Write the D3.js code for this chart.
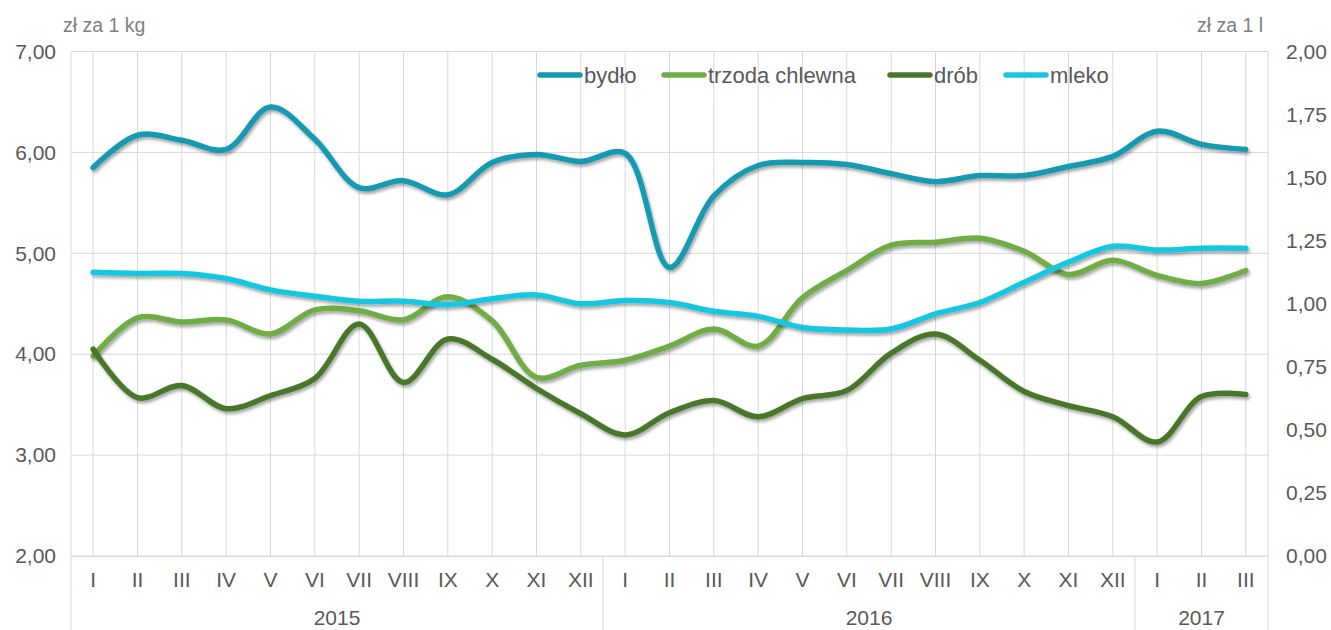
<!DOCTYPE html>
<html>
<head>
<meta charset="utf-8">
<script src="https://cdn.jsdelivr.net/npm/d3@7"></script>
<style>
  body { margin: 0; background: #fff; }
  svg { display: block; font-family: "Liberation Sans", Arial, sans-serif; }
</style>
</head>
<body>
<div id="chart"></div>
<script>
// months I 2015 .. III 2017
const months = ["I","II","III","IV","V","VI","VII","VIII","IX","X","XI","XII",
                "I","II","III","IV","V","VI","VII","VIII","IX","X","XI","XII",
                "I","II","III"];
const years = [
  { label: "2015", start: 0, end: 11 },
  { label: "2016", start: 12, end: 23 },
  { label: "2017", start: 24, end: 26 }
];

// zł za 1 kg (left axis)
const bydlo = [5.85, 6.17, 6.12, 6.03, 6.45, 6.13, 5.65, 5.72, 5.58, 5.90, 5.98, 5.91,
               5.99, 4.86, 5.57, 5.87, 5.90, 5.88, 5.79, 5.71, 5.77, 5.77, 5.86, 5.96,
               6.21, 6.08, 6.03];
const trzoda = [3.98, 4.36, 4.32, 4.34, 4.20, 4.44, 4.43, 4.34, 4.57, 4.33, 3.77, 3.89,
                3.94, 4.08, 4.25, 4.08, 4.56, 4.83, 5.08, 5.11, 5.15, 5.02, 4.79, 4.93,
                4.78, 4.70, 4.83];
const drob = [4.05, 3.57, 3.69, 3.46, 3.59, 3.76, 4.30, 3.72, 4.15, 3.95, 3.66, 3.41,
              3.20, 3.42, 3.54, 3.38, 3.56, 3.64, 4.01, 4.20, 3.94, 3.63, 3.49, 3.38,
              3.13, 3.58, 3.60];
// zł za 1 l (right axis)
const mleko = [1.125, 1.12, 1.12, 1.10, 1.055, 1.03, 1.01, 1.01, 0.996, 1.02, 1.035, 1.00,
               1.013, 1.005, 0.97, 0.95, 0.906, 0.896, 0.90, 0.96, 1.005, 1.085, 1.165, 1.228,
               1.213, 1.22, 1.22];

const leftTicks = [2, 3, 4, 5, 6, 7];
const rightTicks = [0, 0.25, 0.5, 0.75, 1, 1.25, 1.5, 1.75, 2];

const series = [
  { name: "bydło", values: bydlo, color: "#139ab1", axis: "left" },
  { name: "trzoda chlewna", values: trzoda, color: "#70ad47", axis: "left" },
  { name: "drób", values: drob, color: "#4a772b", axis: "left" },
  { name: "mleko", values: mleko, color: "#17c7e2", axis: "right" }
];

const W = 1331, H = 630;
const plot = { left: 71, right: 1268, top: 51.5, bottom: 556 };

const pl = d3.formatLocale({ decimal: ",", thousands: " ", grouping: [3], currency: ["", " zł"] });
const fmt = pl.format(".2f");

const svg = d3.select("#chart").append("svg")
  .attr("width", W)
  .attr("height", H);

const defs = svg.append("defs");
const shadow = defs.append("filter")
  .attr("id", "shadow")
  .attr("x", "-5%").attr("y", "-20%")
  .attr("width", "110%").attr("height", "140%");
shadow.append("feDropShadow")
  .attr("dx", 1.5).attr("dy", 2.5)
  .attr("stdDeviation", 1.6)
  .attr("flood-color", "#000")
  .attr("flood-opacity", 0.35);

const x = d3.scaleBand()
  .domain(d3.range(months.length))
  .range([plot.left, plot.right])
  .padding(0);
const cx = i => x(i) + x.bandwidth() / 2;

const yL = d3.scaleLinear().domain([2, 7]).range([plot.bottom, plot.top]);
const yR = d3.scaleLinear().domain([0, 2]).range([plot.bottom, plot.top]);

const gridColor = "#d9d9d9";
const textColor = "#595959";

// horizontal gridlines
svg.append("g")
  .selectAll("line")
  .data(leftTicks)
  .join("line")
    .attr("x1", plot.left).attr("x2", plot.right)
    .attr("y1", d => yL(d)).attr("y2", d => yL(d))
    .attr("stroke", gridColor).attr("stroke-width", 1);

// vertical gridlines at categories
svg.append("g")
  .selectAll("line")
  .data(d3.range(months.length))
  .join("line")
    .attr("x1", d => cx(d)).attr("x2", d => cx(d))
    .attr("y1", plot.top).attr("y2", plot.bottom)
    .attr("stroke", gridColor).attr("stroke-width", 1);

// plot border sides
svg.append("line")
  .attr("x1", plot.left).attr("x2", plot.left)
  .attr("y1", plot.top).attr("y2", H)
  .attr("stroke", gridColor);
svg.append("line")
  .attr("x1", plot.right).attr("x2", plot.right)
  .attr("y1", plot.top).attr("y2", H)
  .attr("stroke", gridColor);

// year separators below axis
svg.append("g")
  .selectAll("line")
  .data(years.slice(1))
  .join("line")
    .attr("x1", d => x(d.start)).attr("x2", d => x(d.start))
    .attr("y1", plot.bottom).attr("y2", H)
    .attr("stroke", gridColor);

// left axis
const axL = svg.append("g")
  .attr("transform", `translate(${plot.left},0)`)
  .call(d3.axisLeft(yL).tickValues(leftTicks).tickFormat(fmt).tickSize(0).tickPadding(15));
axL.select(".domain").remove();
axL.selectAll("text")
  .attr("fill", textColor)
  .style("font-size", "21px");

// right axis
const axR = svg.append("g")
  .attr("transform", `translate(${plot.right},0)`)
  .call(d3.axisRight(yR).tickValues(rightTicks).tickFormat(fmt).tickSize(0).tickPadding(18));
axR.select(".domain").remove();
axR.selectAll("text")
  .attr("fill", textColor)
  .style("font-size", "21px");

// bottom axis - months
const axB = svg.append("g")
  .attr("transform", `translate(0,${plot.bottom})`)
  .call(d3.axisBottom(x).tickFormat(i => months[i]).tickSize(0).tickPadding(16));
axB.select(".domain")
  .attr("stroke", gridColor);
axB.selectAll("text")
  .attr("fill", textColor)
  .style("font-size", "21px");

// year labels
svg.append("g")
  .selectAll("text")
  .data(years)
  .join("text")
    .attr("x", d => (x(d.start) + x(d.end) + x.bandwidth()) / 2)
    .attr("y", 625)
    .attr("text-anchor", "middle")
    .attr("fill", textColor)
    .style("font-size", "21px")
    .text(d => d.label);

// axis titles
svg.append("text")
  .attr("x", 63).attr("y", 32)
  .attr("fill", "#7f7f7f")
  .style("font-size", "19.5px")
  .text("zł za 1 kg");
svg.append("text")
  .attr("x", 1263).attr("y", 32)
  .attr("text-anchor", "end")
  .attr("fill", "#7f7f7f")
  .style("font-size", "19.5px")
  .text("zł za 1 l");

// lines
const lineL = d3.line()
  .x((d, i) => cx(i))
  .y(d => yL(d))
  .curve(d3.curveCatmullRom.alpha(0.5));
const lineR = d3.line()
  .x((d, i) => cx(i))
  .y(d => yR(d))
  .curve(d3.curveCatmullRom.alpha(0.5));

svg.append("g")
  .selectAll("path")
  .data(series)
  .join("path")
    .attr("d", s => (s.axis === "left" ? lineL : lineR)(s.values))
    .attr("fill", "none")
    .attr("stroke", s => s.color)
    .attr("stroke-width", 5.5)
    .attr("stroke-linecap", "round")
    .attr("stroke-linejoin", "round")
    .attr("filter", "url(#shadow)");

// legend
const legendX = [540, 664, 890, 1006];
const legend = svg.append("g");
series.forEach((s, i) => {
  const g = legend.append("g").attr("transform", `translate(${legendX[i]},75)`);
  g.append("line")
    .attr("x1", 0).attr("x2", 40)
    .attr("stroke", s.color)
    .attr("stroke-width", 5.5)
    .attr("stroke-linecap", "round");
  g.append("text")
    .attr("x", 44).attr("y", 0)
    .attr("dy", "0.35em")
    .attr("fill", textColor)
    .style("font-size", "22px")
    .text(s.name);
});
</script>
</body>
</html>
